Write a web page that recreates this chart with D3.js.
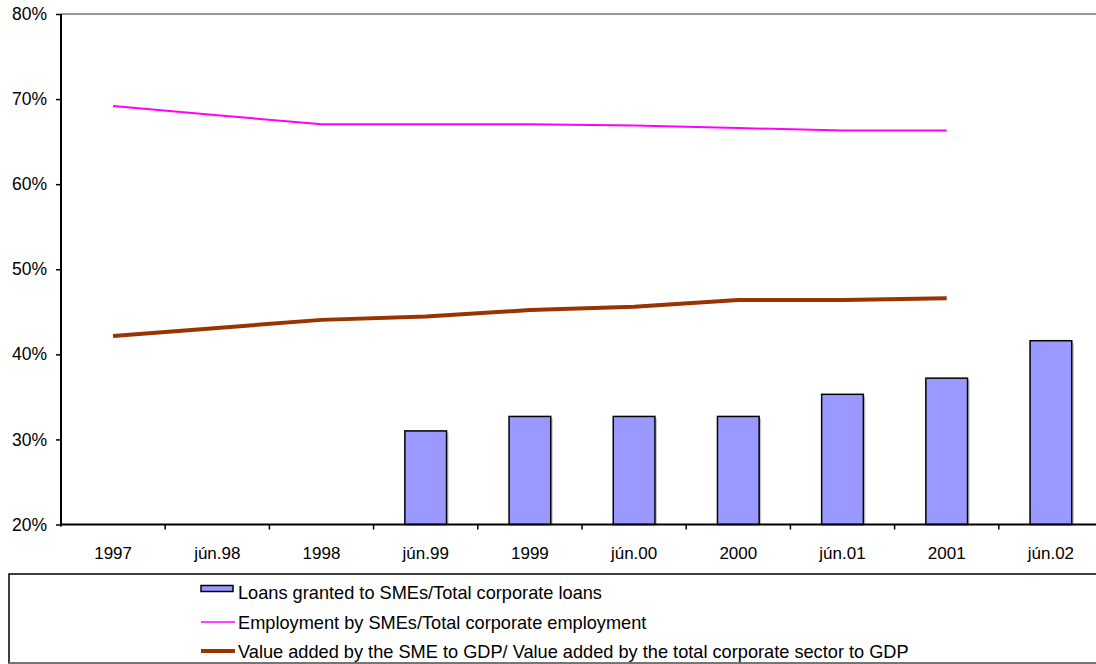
<!DOCTYPE html>
<html>
<head>
<meta charset="utf-8">
<script src="https://cdn.jsdelivr.net/npm/d3@7"></script>
<style>
  html, body { margin: 0; padding: 0; background: #fff; }
  svg { display: block; }
  text { font-family: Arial, "Liberation Sans", sans-serif; fill: #000; }
</style>
</head>
<body>
<svg id="chart" width="1096" height="664"></svg>
<script>
// Periods on the horizontal axis
const categories = ["1997", "jún.98", "1998", "jún.99", "1999", "jún.00", "2000", "jún.01", "2001", "jún.02"];

// Loans granted to SMEs / total corporate loans (%)
const loansShare = [null, null, null, 31.0, 32.7, 32.7, 32.7, 35.3, 37.2, 41.6];

// Employment by SMEs / total corporate employment (%)
const employmentShare = [69.2, 68.1, 67.05, 67.05, 67.05, 66.9, 66.6, 66.3, 66.3, null];

// Value added by SMEs / value added by the corporate sector (%)
const valueAddedShare = [42.15, 43.1, 44.05, 44.45, 45.2, 45.6, 46.4, 46.4, 46.6, null];

const yTicks = [20, 30, 40, 50, 60, 70, 80];

const seriesNames = [
  "Loans granted to SMEs/Total corporate loans",
  "Employment by SMEs/Total corporate employment",
  "Value added by the SME to GDP/ Value added by the total corporate sector to GDP"
];

const svg = d3.select("#chart");

const plotLeft = 61, plotTop = 14, plotBottom = 524.5, band = 104.2;

const x = d3.scaleBand()
  .domain(categories)
  .range([plotLeft, plotLeft + band * categories.length])
  .padding(0);

const y = d3.scaleLinear().domain([20, 80]).range([plotBottom, plotTop]);

// Plot area top border
svg.append("line")
  .attr("x1", plotLeft).attr("x2", 1096)
  .attr("y1", y(80)).attr("y2", y(80))
  .attr("stroke", "#999").attr("stroke-width", 2);

// Bars with a soft drop shadow
const barW = x.bandwidth() * 0.4;
const barData = categories.map((c, i) => ({ c, v: loansShare[i] })).filter(d => d.v != null);

svg.append("g").selectAll("rect")
  .data(barData)
  .join("rect")
  .attr("x", d => x(d.c) + (x.bandwidth() - barW) / 2 + 2)
  .attr("y", d => y(d.v) + 2)
  .attr("width", barW)
  .attr("height", d => y(20) - y(d.v) - 2)
  .attr("fill", "#c4c4c4");

svg.append("g").selectAll("rect")
  .data(barData)
  .join("rect")
  .attr("x", d => x(d.c) + (x.bandwidth() - barW) / 2)
  .attr("y", d => y(d.v))
  .attr("width", barW)
  .attr("height", d => y(20) - y(d.v))
  .attr("fill", "#9999FF")
  .attr("stroke", "#000")
  .attr("stroke-width", 1.5);

// Lines
const cx = c => x(c) + x.bandwidth() / 2;
const lineGen = d3.line()
  .defined(d => d.v != null)
  .x(d => cx(d.c))
  .y(d => y(d.v));

svg.append("path")
  .datum(categories.map((c, i) => ({ c, v: employmentShare[i] })))
  .attr("d", lineGen)
  .attr("fill", "none")
  .attr("stroke", "#FF00FF")
  .attr("stroke-width", 2);

svg.append("path")
  .datum(categories.map((c, i) => ({ c, v: valueAddedShare[i] })))
  .attr("d", lineGen)
  .attr("fill", "none")
  .attr("stroke", "#993300")
  .attr("stroke-width", 4);

// Y axis
const yAxis = d3.axisLeft(y).tickValues(yTicks).tickFormat(d => d + "%").tickSize(5).tickPadding(9);
const gy = svg.append("g").attr("transform", `translate(${plotLeft},0)`).call(yAxis);
gy.select(".domain").attr("stroke", "#000").attr("stroke-width", 2).attr("d", `M0,${y(80)}V${y(20) + 2}`);
gy.selectAll(".tick line").attr("stroke", "#000").attr("stroke-width", 1.5);
gy.selectAll(".tick text").style("font-size", "17.5px").style("font-family", "Arial, 'Liberation Sans', sans-serif");

// X axis: ticks at category boundaries, labels centred in each band
const gx = svg.append("g").attr("transform", `translate(0,${plotBottom})`);
gx.append("line")
  .attr("x1", plotLeft - 1).attr("x2", 1096)
  .attr("stroke", "#000").attr("stroke-width", 2);
gx.selectAll("line.tk")
  .data(categories.slice(1))
  .join("line")
  .attr("class", "tk")
  .attr("x1", d => x(d)).attr("x2", d => x(d))
  .attr("y1", 0).attr("y2", 5)
  .attr("stroke", "#000").attr("stroke-width", 1.5);
gx.selectAll("text")
  .data(categories)
  .join("text")
  .attr("x", d => cx(d))
  .attr("y", 34)
  .attr("text-anchor", "middle")
  .style("font-size", "17px")
  .text(d => d);

// Legend
const lg = svg.append("g");
lg.append("rect")
  .attr("x", 9).attr("y", 574)
  .attr("width", 1100).attr("height", 89)
  .attr("fill", "#fff")
  .attr("stroke", "#000").attr("stroke-width", 1.5);
lg.append("line")
  .attr("x1", 9).attr("x2", 1096).attr("y1", 663).attr("y2", 663)
  .attr("stroke", "#888").attr("stroke-width", 1.5);

const rowY = [598.5, 628.5, 658];
const swX = 201, swW = 32, txX = 238;

lg.append("rect")
  .attr("x", swX).attr("y", rowY[0] - 13)
  .attr("width", swW).attr("height", 6)
  .attr("fill", "#9999FF").attr("stroke", "#000").attr("stroke-width", 1.5);
lg.append("line")
  .attr("x1", swX).attr("x2", swX + swW + 2)
  .attr("y1", rowY[1] - 6.5).attr("y2", rowY[1] - 6.5)
  .attr("stroke", "#FF00FF").attr("stroke-width", 1.5);
lg.append("line")
  .attr("x1", swX).attr("x2", swX + swW + 2)
  .attr("y1", rowY[2] - 7).attr("y2", rowY[2] - 7)
  .attr("stroke", "#993300").attr("stroke-width", 4);

lg.selectAll("text.lbl")
  .data(seriesNames)
  .join("text")
  .attr("class", "lbl")
  .attr("x", txX)
  .attr("y", (d, i) => rowY[i])
  .style("font-size", "18.2px")
  .text(d => d);
</script>
</body>
</html>
